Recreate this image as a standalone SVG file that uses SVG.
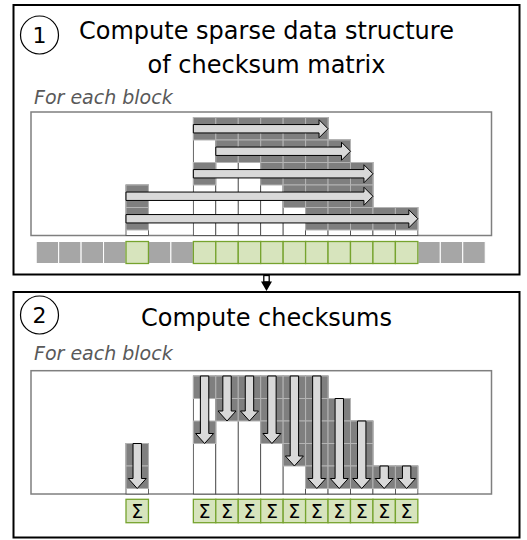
<svg xmlns="http://www.w3.org/2000/svg" width="527" height="540" viewBox="0 0 527 540">
<style>
.panel{fill:#fff;stroke:#000;stroke-width:2}
.inner{fill:#fff;stroke:#7f7f7f;stroke-width:1.5}
.col{fill:#fff;stroke:#404040;stroke-width:0.8}
.g{fill:#7f7f7f;stroke:#b4b4b4;stroke-width:1}
.arr{fill:#d9d9d9;stroke:#000;stroke-width:1;stroke-linejoin:miter}
.cg{fill:#a6a6a6;stroke:#fff;stroke-width:1}
.cgr{fill:#d7e4bd;stroke:#76a32e;stroke-width:1.3}
.title{font-family:"DejaVu Sans",sans-serif;font-size:24px;fill:#000}
.num{font-family:"DejaVu Sans",sans-serif;font-size:22px;fill:#000}
.sub{font-family:"DejaVu Sans",sans-serif;font-size:19px;font-style:italic;fill:#595959}
.sig{font-family:"DejaVu Sans",sans-serif;font-size:19px;fill:#000;text-anchor:middle}
.circ{fill:#fff;stroke:#000;stroke-width:1.2}
</style>

<g id="panel1">
<rect class="panel" x="13.5" y="5" width="506" height="269.5"/>
<circle class="circ" cx="39.5" cy="35" r="19"/>
<text class="num" x="39.5" y="43" text-anchor="middle">1</text>
<text class="title" x="266.5" y="39" text-anchor="middle">Compute sparse data structure</text>
<text class="title" x="266.5" y="72.5" text-anchor="middle">of checksum matrix</text>
<text class="sub" x="34" y="104">For each block</text>
<rect class="inner" x="31" y="112" width="460.5" height="123.5"/>
<g id="p1-columns">
<rect class="col" x="126" y="185" width="22.45" height="50.5"/>
<rect class="col" x="193.35" y="117.5" width="22.45" height="118"/>
<rect class="col" x="215.8" y="117.5" width="22.45" height="118"/>
<rect class="col" x="238.25" y="117.5" width="22.45" height="118"/>
<rect class="col" x="260.7" y="117.5" width="22.45" height="118"/>
<rect class="col" x="283.15" y="117.5" width="22.45" height="118"/>
<rect class="col" x="305.6" y="117.5" width="22.45" height="118"/>
<rect class="col" x="328.05" y="140" width="22.45" height="95.5"/>
<rect class="col" x="350.5" y="162.5" width="22.45" height="73"/>
<rect class="col" x="372.95" y="207.5" width="22.45" height="28"/>
<rect class="col" x="395.4" y="207.5" width="22.45" height="28"/>
</g>
<g id="p1-cells">
<rect class="g" x="193.35" y="117.5" width="22.45" height="22.5"/>
<rect class="g" x="215.8" y="117.5" width="22.45" height="22.5"/>
<rect class="g" x="238.25" y="117.5" width="22.45" height="22.5"/>
<rect class="g" x="260.7" y="117.5" width="22.45" height="22.5"/>
<rect class="g" x="283.15" y="117.5" width="22.45" height="22.5"/>
<rect class="g" x="305.6" y="117.5" width="22.45" height="22.5"/>
<rect class="g" x="215.8" y="140" width="22.45" height="22.5"/>
<rect class="g" x="238.25" y="140" width="22.45" height="22.5"/>
<rect class="g" x="260.7" y="140" width="22.45" height="22.5"/>
<rect class="g" x="283.15" y="140" width="22.45" height="22.5"/>
<rect class="g" x="305.6" y="140" width="22.45" height="22.5"/>
<rect class="g" x="328.05" y="140" width="22.45" height="22.5"/>
<rect class="g" x="193.35" y="162.5" width="22.45" height="22.5"/>
<rect class="g" x="260.7" y="162.5" width="22.45" height="22.5"/>
<rect class="g" x="283.15" y="162.5" width="22.45" height="22.5"/>
<rect class="g" x="305.6" y="162.5" width="22.45" height="22.5"/>
<rect class="g" x="328.05" y="162.5" width="22.45" height="22.5"/>
<rect class="g" x="350.5" y="162.5" width="22.45" height="22.5"/>
<rect class="g" x="126" y="185" width="22.45" height="22.5"/>
<rect class="g" x="283.15" y="185" width="22.45" height="22.5"/>
<rect class="g" x="305.6" y="185" width="22.45" height="22.5"/>
<rect class="g" x="328.05" y="185" width="22.45" height="22.5"/>
<rect class="g" x="350.5" y="185" width="22.45" height="22.5"/>
<rect class="g" x="126" y="207.5" width="22.45" height="22.5"/>
<rect class="g" x="305.6" y="207.5" width="22.45" height="22.5"/>
<rect class="g" x="328.05" y="207.5" width="22.45" height="22.5"/>
<rect class="g" x="350.5" y="207.5" width="22.45" height="22.5"/>
<rect class="g" x="372.95" y="207.5" width="22.45" height="22.5"/>
<rect class="g" x="395.4" y="207.5" width="22.45" height="22.5"/>
</g>
<g id="p1-arrows">
<path class="arr" d="M193.35,124.55 H319.05 V119.75 L328.05,128.75 L319.05,137.75 V132.95 H193.35 Z"/>
<path class="arr" d="M215.8,147.05 H341.5 V142.25 L350.5,151.25 L341.5,160.25 V155.45 H215.8 Z"/>
<path class="arr" d="M193.35,169.55 H363.95 V164.75 L372.95,173.75 L363.95,182.75 V177.95 H193.35 Z"/>
<path class="arr" d="M126,192.05 H363.95 V187.25 L372.95,196.25 L363.95,205.25 V200.45 H126 Z"/>
<path class="arr" d="M126,214.55 H408.85 V209.75 L417.85,218.75 L408.85,227.75 V222.95 H126 Z"/>
</g>
<g id="p1-blocks">
<rect class="cg" x="36.2" y="241.5" width="22.45" height="22"/>
<rect class="cg" x="58.65" y="241.5" width="22.45" height="22"/>
<rect class="cg" x="81.1" y="241.5" width="22.45" height="22"/>
<rect class="cg" x="103.55" y="241.5" width="22.45" height="22"/>
<rect class="cg" x="148.45" y="241.5" width="22.45" height="22"/>
<rect class="cg" x="170.9" y="241.5" width="22.45" height="22"/>
<rect class="cg" x="417.85" y="241.5" width="22.45" height="22"/>
<rect class="cg" x="440.3" y="241.5" width="22.45" height="22"/>
<rect class="cg" x="462.75" y="241.5" width="22.45" height="22"/>
<rect class="cgr" x="126" y="241.5" width="22.45" height="22"/>
<rect class="cgr" x="193.35" y="241.5" width="22.45" height="22"/>
<rect class="cgr" x="215.8" y="241.5" width="22.45" height="22"/>
<rect class="cgr" x="238.25" y="241.5" width="22.45" height="22"/>
<rect class="cgr" x="260.7" y="241.5" width="22.45" height="22"/>
<rect class="cgr" x="283.15" y="241.5" width="22.45" height="22"/>
<rect class="cgr" x="305.6" y="241.5" width="22.45" height="22"/>
<rect class="cgr" x="328.05" y="241.5" width="22.45" height="22"/>
<rect class="cgr" x="350.5" y="241.5" width="22.45" height="22"/>
<rect class="cgr" x="372.95" y="241.5" width="22.45" height="22"/>
<rect class="cgr" x="395.4" y="241.5" width="22.45" height="22"/>
</g>
</g>

<g id="panel2">
<rect class="panel" x="13.5" y="292" width="506" height="245.5"/>
<circle class="circ" cx="39.5" cy="315" r="19"/>
<text class="num" x="39.5" y="323" text-anchor="middle">2</text>
<text class="title" x="266.5" y="326" text-anchor="middle">Compute checksums</text>
<text class="sub" x="34" y="360">For each block</text>
<rect class="inner" x="31" y="370.7" width="460.5" height="123.3"/>
<g id="p2-columns">
<rect class="col" x="126" y="443.5" width="22.45" height="50.5"/>
<rect class="col" x="193.35" y="376" width="22.45" height="118"/>
<rect class="col" x="215.8" y="376" width="22.45" height="118"/>
<rect class="col" x="238.25" y="376" width="22.45" height="118"/>
<rect class="col" x="260.7" y="376" width="22.45" height="118"/>
<rect class="col" x="283.15" y="376" width="22.45" height="118"/>
<rect class="col" x="305.6" y="376" width="22.45" height="118"/>
<rect class="col" x="328.05" y="398.5" width="22.45" height="95.5"/>
<rect class="col" x="350.5" y="421" width="22.45" height="73"/>
<rect class="col" x="372.95" y="466" width="22.45" height="28"/>
<rect class="col" x="395.4" y="466" width="22.45" height="28"/>
</g>
<g id="p2-cells">
<rect class="g" x="126" y="443.5" width="22.45" height="22.5"/>
<rect class="g" x="126" y="466" width="22.45" height="22.5"/>
<rect class="g" x="193.35" y="376" width="22.45" height="22.5"/>
<rect class="g" x="193.35" y="421" width="22.45" height="22.5"/>
<rect class="g" x="215.8" y="376" width="22.45" height="22.5"/>
<rect class="g" x="215.8" y="398.5" width="22.45" height="22.5"/>
<rect class="g" x="238.25" y="376" width="22.45" height="22.5"/>
<rect class="g" x="238.25" y="398.5" width="22.45" height="22.5"/>
<rect class="g" x="260.7" y="376" width="22.45" height="22.5"/>
<rect class="g" x="260.7" y="398.5" width="22.45" height="22.5"/>
<rect class="g" x="260.7" y="421" width="22.45" height="22.5"/>
<rect class="g" x="283.15" y="376" width="22.45" height="22.5"/>
<rect class="g" x="283.15" y="398.5" width="22.45" height="22.5"/>
<rect class="g" x="283.15" y="421" width="22.45" height="22.5"/>
<rect class="g" x="283.15" y="443.5" width="22.45" height="22.5"/>
<rect class="g" x="305.6" y="376" width="22.45" height="22.5"/>
<rect class="g" x="305.6" y="398.5" width="22.45" height="22.5"/>
<rect class="g" x="305.6" y="421" width="22.45" height="22.5"/>
<rect class="g" x="305.6" y="443.5" width="22.45" height="22.5"/>
<rect class="g" x="305.6" y="466" width="22.45" height="22.5"/>
<rect class="g" x="328.05" y="398.5" width="22.45" height="22.5"/>
<rect class="g" x="328.05" y="421" width="22.45" height="22.5"/>
<rect class="g" x="328.05" y="443.5" width="22.45" height="22.5"/>
<rect class="g" x="328.05" y="466" width="22.45" height="22.5"/>
<rect class="g" x="350.5" y="421" width="22.45" height="22.5"/>
<rect class="g" x="350.5" y="443.5" width="22.45" height="22.5"/>
<rect class="g" x="350.5" y="466" width="22.45" height="22.5"/>
<rect class="g" x="372.95" y="466" width="22.45" height="22.5"/>
<rect class="g" x="395.4" y="466" width="22.45" height="22.5"/>
</g>
<g id="p2-arrows">
<path class="arr" d="M133.03,443.5 V478.5 H128.23 L137.23,488.5 L146.23,478.5 H141.43 V443.5 Z"/>
<path class="arr" d="M200.38,376 V433.5 H195.58 L204.58,443.5 L213.58,433.5 H208.78 V376 Z"/>
<path class="arr" d="M222.83,376 V411 H218.03 L227.03,421 L236.03,411 H231.23 V376 Z"/>
<path class="arr" d="M245.28,376 V411 H240.48 L249.48,421 L258.48,411 H253.68 V376 Z"/>
<path class="arr" d="M267.73,376 V433.5 H262.93 L271.93,443.5 L280.93,433.5 H276.13 V376 Z"/>
<path class="arr" d="M290.18,376 V456 H285.38 L294.38,466 L303.38,456 H298.58 V376 Z"/>
<path class="arr" d="M312.63,376 V478.5 H307.83 L316.83,488.5 L325.83,478.5 H321.03 V376 Z"/>
<path class="arr" d="M335.08,398.5 V478.5 H330.28 L339.28,488.5 L348.28,478.5 H343.48 V398.5 Z"/>
<path class="arr" d="M357.53,421 V478.5 H352.73 L361.73,488.5 L370.73,478.5 H365.93 V421 Z"/>
<path class="arr" d="M379.98,466 V478.5 H375.18 L384.18,488.5 L393.18,478.5 H388.38 V466 Z"/>
<path class="arr" d="M402.43,466 V478.5 H397.63 L406.63,488.5 L415.63,478.5 H410.83 V466 Z"/>
</g>
<g id="p2-sums">
<rect class="cgr" x="126" y="499.3" width="22.45" height="23.4"/>
<rect class="cgr" x="193.35" y="499.3" width="22.45" height="23.4"/>
<rect class="cgr" x="215.8" y="499.3" width="22.45" height="23.4"/>
<rect class="cgr" x="238.25" y="499.3" width="22.45" height="23.4"/>
<rect class="cgr" x="260.7" y="499.3" width="22.45" height="23.4"/>
<rect class="cgr" x="283.15" y="499.3" width="22.45" height="23.4"/>
<rect class="cgr" x="305.6" y="499.3" width="22.45" height="23.4"/>
<rect class="cgr" x="328.05" y="499.3" width="22.45" height="23.4"/>
<rect class="cgr" x="350.5" y="499.3" width="22.45" height="23.4"/>
<rect class="cgr" x="372.95" y="499.3" width="22.45" height="23.4"/>
<rect class="cgr" x="395.4" y="499.3" width="22.45" height="23.4"/>
<text class="sig" x="137.23" y="517.8">Σ</text>
<text class="sig" x="204.58" y="517.8">Σ</text>
<text class="sig" x="227.03" y="517.8">Σ</text>
<text class="sig" x="249.48" y="517.8">Σ</text>
<text class="sig" x="271.93" y="517.8">Σ</text>
<text class="sig" x="294.38" y="517.8">Σ</text>
<text class="sig" x="316.83" y="517.8">Σ</text>
<text class="sig" x="339.28" y="517.8">Σ</text>
<text class="sig" x="361.73" y="517.8">Σ</text>
<text class="sig" x="384.18" y="517.8">Σ</text>
<text class="sig" x="406.63" y="517.8">Σ</text>
</g>
</g>

<g id="connectors">
<rect x="263.8" y="275.5" width="5.4" height="6.5" fill="#fff" stroke="#000" stroke-width="1.3"/>
<path d="M261,281.5 H272 L266.5,291 Z" fill="#000"/>
</g>
</svg>
